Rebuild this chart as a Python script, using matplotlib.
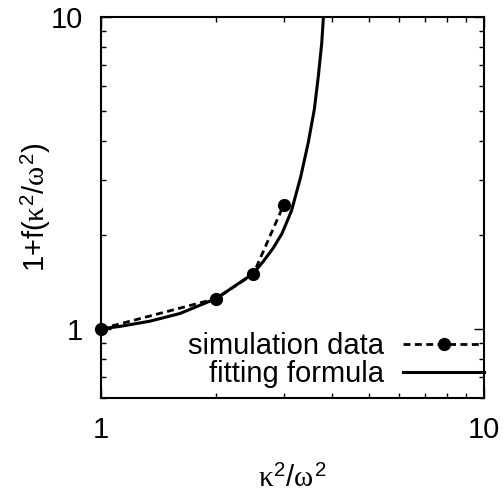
import matplotlib
matplotlib.use('Agg')

import matplotlib.pyplot as plt
from matplotlib.ticker import FixedLocator, NullFormatter

plt.rcParams['font.family'] = ['Liberation Sans', 'DejaVu Sans']
plt.rcParams['mathtext.fontset'] = 'custom'
plt.rcParams['mathtext.rm'] = 'Liberation Sans'
plt.rcParams['mathtext.it'] = 'Liberation Serif'

# simulation data
sim_x = [1.0, 2.0, 2.5, 3.0]
sim_y = [1.0, 1.25, 1.5, 2.5]

# fitting formula
fit_x = [1.0, 1.121, 1.342, 1.608, 1.997, 2.494, 2.648, 2.812, 2.969, 3.144,
         3.322, 3.477, 3.606, 3.693, 3.770, 3.806, 3.83]
fit_y = [1.0, 1.018, 1.058, 1.12, 1.25, 1.502, 1.640, 1.811, 2.022, 2.393,
         3.071, 3.96, 5.06, 6.45, 8.25, 9.9, 11.3]

fig = plt.figure(figsize=(5.04, 4.93), dpi=100)
ax = fig.add_axes([101 / 504, 1 - 398 / 493, 383 / 504, 381 / 493])

ax.plot(sim_x, sim_y, color='black', linestyle=(0, (2.5, 1.6)), linewidth=2.0,
        marker='o', markersize=8.5, label='simulation data', clip_on=False, zorder=3)
ax.plot(fit_x, fit_y, color='black', linewidth=2.2, label='fitting formula')

ax.set_xscale('log')
ax.set_yscale('log')
ax.set_xlim(1, 10)
ax.set_ylim(0.6, 10)

ax.xaxis.set_major_locator(FixedLocator([1, 10]))
ax.yaxis.set_major_locator(FixedLocator([1, 10]))
ax.xaxis.set_minor_locator(FixedLocator([2, 3, 4, 5, 6, 7, 8, 9]))
ax.yaxis.set_minor_locator(FixedLocator([0.6, 0.7, 0.8, 0.9, 2, 3, 4, 5, 6, 7, 8, 9]))
ax.set_xticklabels(['1', '10'])
ax.set_yticklabels(['1', '10'])
ax.xaxis.set_minor_formatter(NullFormatter())
ax.yaxis.set_minor_formatter(NullFormatter())

ax.tick_params(which='both', direction='in', top=True, right=True, width=1.0,
               labelsize=21)
ax.tick_params(which='major', length=7, pad=13)
ax.tick_params(which='minor', length=3.6)
for s in ax.spines.values():
    s.set_linewidth(1.5)

ax.set_xlabel('$\\kappa^2$/$\\omega^2$', fontsize=21, labelpad=15)
ax.set_ylabel('1+f($\\kappa^2$/$\\omega^2$)', fontsize=21, labelpad=-2)

ax.legend(loc='lower right', bbox_to_anchor=(1.0, 0.025), frameon=False,
          markerfirst=False, fontsize=21, handlelength=2.77, handletextpad=0.65,
          labelspacing=0.0, borderpad=0, borderaxespad=0)

fig.savefig('out.png', dpi=100)
plt.close(fig)
